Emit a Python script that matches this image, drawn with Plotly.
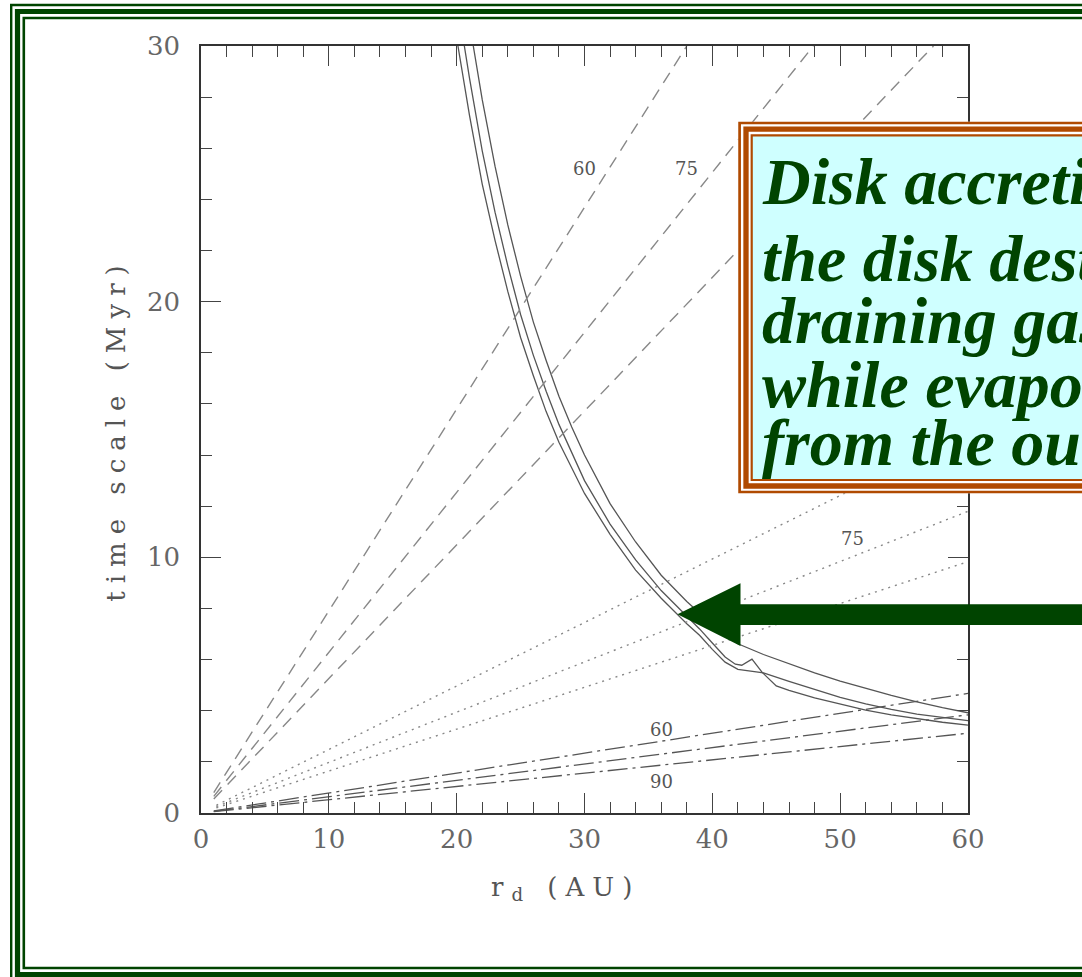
import plotly.graph_objects as go

# ---------------- data ----------------
x_tick_vals = [0, 10, 20, 30, 40, 50, 60]
y_tick_vals = [0, 10, 20, 30]

# three solid curves
solid_a_x = [20.1, 21, 22, 23, 24, 25, 26, 27, 28, 29, 30, 32, 34, 36, 38, 39, 40, 41, 42, 43, 44, 46, 48, 50, 52, 54, 56, 58, 60]
solid_a_y = [30, 27.3, 24.6, 22.4, 20.4, 18.6, 17.1, 15.7, 14.5, 13.5, 12.5, 10.9, 9.5, 8.4, 7.4, 6.95, 6.4, 5.9, 5.62, 5.55, 5.48, 5.15, 4.82, 4.52, 4.27, 4.05, 3.87, 3.73, 3.61]

solid_b_x = [20.6, 21, 22, 23, 24, 25, 26, 27, 28, 29, 30, 32, 34, 36, 38, 39, 40, 41, 41.8, 42.3, 43.1, 43.9, 45, 46, 48, 50, 52, 54, 56, 58, 60]
solid_b_y = [30, 28.75, 25.9, 23.5, 21.4, 19.5, 17.9, 16.5, 15.2, 14.1, 13.0, 11.3, 9.9, 8.7, 7.7, 7.2, 6.65, 6.1, 5.82, 5.78, 6.02, 5.5, 4.97, 4.8, 4.5, 4.25, 4.02, 3.84, 3.68, 3.55, 3.44]

solid_c_x = [21.3, 22, 23, 24, 25, 26, 27, 28, 29, 30, 32, 34, 36, 38, 40, 42, 44, 46, 48, 50, 52, 54, 56, 58, 60]
solid_c_y = [30, 27.9, 25.3, 23.0, 21.0, 19.2, 17.7, 16.3, 15.1, 14.0, 12.1, 10.6, 9.3, 8.27, 7.37, 6.62, 6.2, 5.83, 5.48, 5.16, 4.87, 4.6, 4.35, 4.12, 3.92]

# dashed lines (labels 60, 75, ...)
dashed_x = [[1.0, 38.0], [1.0, 47.9], [1.0, 57.3]]
dashed_y = [[0.8, 30.0], [0.65, 30.0], [0.55, 30.0]]

# dotted lines
dotted_x = [[1.2, 60.0], [1.2, 60.0], [1.2, 60.0]]
dotted_y = [[0.3, 14.9], [0.25, 11.8], [0.2, 9.83]]

# dash-dot lines
dashdot_x = [[1.0, 60.0], [1.0, 60.0], [1.0, 60.0]]
dashdot_y = [[0.08, 4.68], [0.06, 3.84], [0.05, 3.12]]

# in-plot labels
label_text = ["60", "75", "75", "60", "90"]
label_x = [30.0, 38.0, 51.0, 36.0, 36.0]
label_y = [25.2, 25.2, 10.75, 3.25, 1.22]

box_lines = ["Disk accretion", "the disk destroyed", "draining gas",
             "while evaporating", "from the outside"]

x_title = "r<sub>d</sub> (AU)"
y_title = "time scale (Myr)"

# ---------------- figure ----------------
W, H = 1082, 977
ML, MR, MT, MB = 201, 114, 46, 164
PW = W - ML - MR
PH = H - MT - MB


def fx(p):
    return (p - ML) / PW


def fy(p):
    return (H - MB - p) / PH


GREEN = "#004400"
BROWN = "#B04A00"
CYAN = "#CFFFFF"
SOLID_C = "#555555"
LIGHT_C = "#888888"

fig = go.Figure()

for xs, ys in [(solid_a_x, solid_a_y), (solid_b_x, solid_b_y), (solid_c_x, solid_c_y)]:
    fig.add_trace(go.Scatter(x=xs, y=ys, mode="lines",
                             line=dict(color=SOLID_C, width=1.3), showlegend=False))
for xs, ys in zip(dashed_x, dashed_y):
    fig.add_trace(go.Scatter(x=xs, y=ys, mode="lines",
                             line=dict(color=LIGHT_C, width=1.4, dash="12px,8px"), showlegend=False))
for xs, ys in zip(dotted_x, dotted_y):
    fig.add_trace(go.Scatter(x=xs, y=ys, mode="lines",
                             line=dict(color=LIGHT_C, width=1.4, dash="2px,5px"), showlegend=False))
for xs, ys in zip(dashdot_x, dashdot_y):
    fig.add_trace(go.Scatter(x=xs, y=ys, mode="lines",
                             line=dict(color=SOLID_C, width=1.3, dash="20px,5px,3px,5px"), showlegend=False))

annotations = []
for t, xv, yv in zip(label_text, label_x, label_y):
    annotations.append(dict(x=xv, y=yv, xref="x", yref="y", text=t, showarrow=False,
                            font=dict(family="DejaVu Serif", size=18, color="#555555")))

# x axis title (placed as in the reference, slightly left of centre)
annotations.append(dict(x=fx(565), y=fy(888), xref="paper", yref="paper",
                        xanchor="center", yanchor="middle", showarrow=False,
                        text="<span style='letter-spacing:8px'>" + x_title + "</span>",
                        font=dict(family="DejaVu Serif", size=26, color="#555555")))

# frame and text box
shapes = []


def rect(x0, y0, x1, y1, color=None, lw=0, fill=None):
    shapes.append(dict(type="rect", xref="paper", yref="paper",
                       x0=fx(x0), x1=fx(x1), y0=fy(y1), y1=fy(y0),
                       line=dict(color=color or "rgba(0,0,0,0)", width=lw),
                       fillcolor=fill or "rgba(0,0,0,0)", layer="above"))


rect(11.2, 5, 1120, 990, GREEN, 2.4)
rect(17.5, 11.5, 1120, 974.5, GREEN, 5.2)
rect(23.8, 18, 1120, 968, GREEN, 2.6)

rect(738.3, 121.7, 1120, 493.3, None, 0, "white")
rect(739.6, 123, 1120, 492, BROWN, 2.7)
rect(746, 129.2, 1120, 486, BROWN, 5.3)
rect(751.7, 135.3, 1120, 480, BROWN, 2.2, CYAN)

arrow_pts = [(677.5, 614.3), (740.5, 583.3), (740.5, 604.2), (1120, 604.2),
             (1120, 625), (740.5, 625), (740.5, 646)]
path = "M " + " L ".join(f"{fx(a):.5f},{fy(b):.5f}" for a, b in arrow_pts) + " Z"
shapes.append(dict(type="path", xref="paper", yref="paper", path=path,
                   fillcolor=GREEN, line=dict(color=GREEN, width=0), layer="above"))

FS_BOX = 66
baselines = [204, 280.7, 343, 407, 465]
for t, b in zip(box_lines, baselines):
    annotations.append(dict(x=fx(762), y=fy(b - 0.3375 * FS_BOX), xref="paper", yref="paper",
                            xanchor="left", yanchor="middle", text=t, showarrow=False,
                            borderpad=0, borderwidth=0,
                            font=dict(family="Liberation Serif", size=FS_BOX, color=GREEN,
                                      weight="bold", style="italic")))

axis_common = dict(
    showline=True, linecolor="#333333", linewidth=1.6, mirror="ticks",
    ticks="inside", ticklen=20, tickwidth=1.4, tickcolor="#444444",
    showgrid=False, zeroline=False, tickmode="array",
    tickfont=dict(family="DejaVu Serif", size=26, color="#666666"),
    minor=dict(ticks="inside", ticklen=11, tickwidth=1.2, tickcolor="#444444",
               tickmode="linear", tick0=0, dtick=2, showgrid=False),
    automargin=False,
)

fig.update_layout(
    width=W, height=H, template="none",
    margin=dict(l=ML, r=MR, t=MT, b=MB, pad=0),
    paper_bgcolor="white", plot_bgcolor="white",
    showlegend=False,
    xaxis=dict(range=[0, 60], tickvals=x_tick_vals, ticktext=[str(v) for v in x_tick_vals],
               ticklabelstandoff=2,
               **axis_common),
    yaxis=dict(range=[0, 30], tickvals=y_tick_vals, ticktext=[str(v) for v in y_tick_vals],
               ticklabelstandoff=14,
               title=dict(text="<span style='letter-spacing:8px'>" + y_title + "</span>",
                          font=dict(family="DejaVu Serif", size=26, color="#555555"),
                          standoff=14),
               **axis_common),
    shapes=shapes,
    annotations=annotations,
)

fig.write_html("out.html")
